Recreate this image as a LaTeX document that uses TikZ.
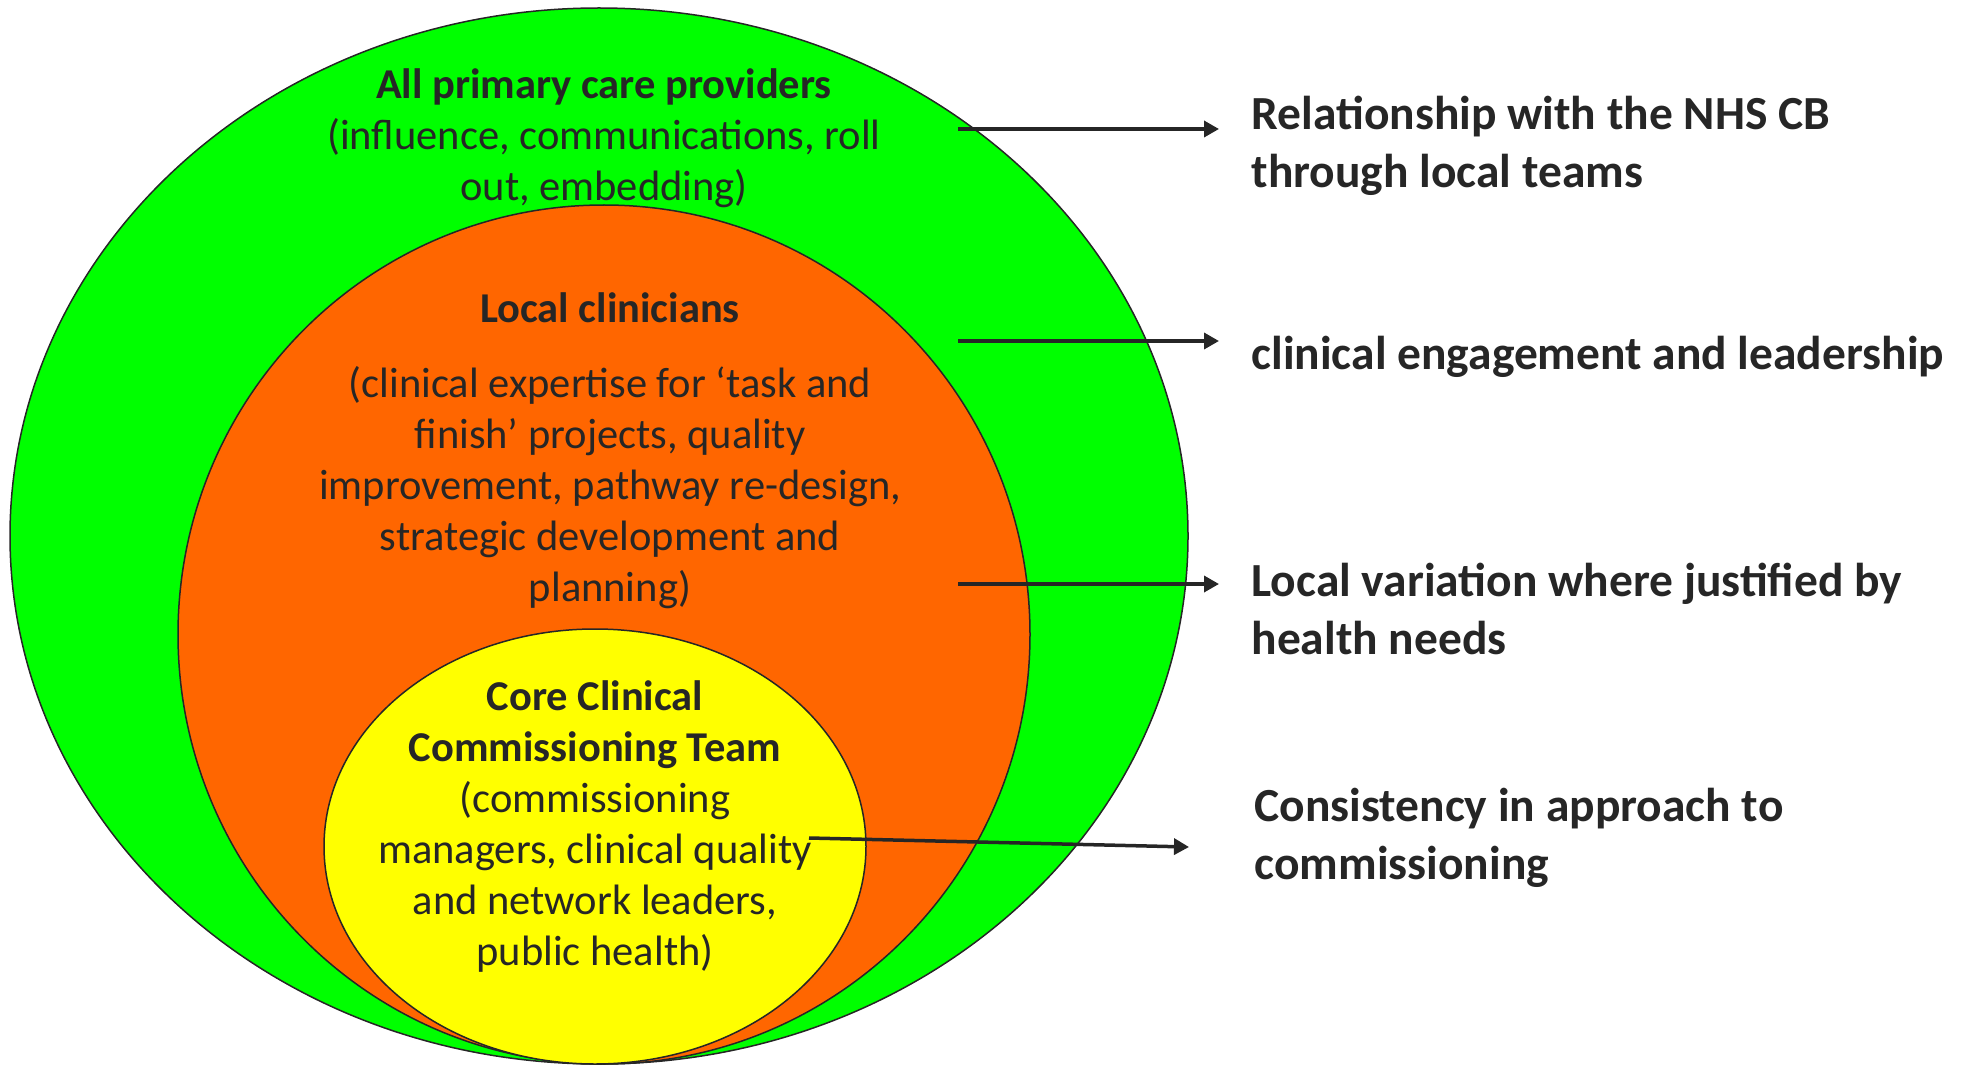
\documentclass[tikz,border=0pt]{standalone}
\usepackage{fontspec}
\setmainfont{Carlito}
\usetikzlibrary{arrows.meta}
\definecolor{ink}{HTML}{262626}
\definecolor{outer}{HTML}{00FF00}
\definecolor{middle}{HTML}{FF6600}
\definecolor{inner}{HTML}{FFFF00}
\tikzset{>={Triangle[length=15pt,width=16pt]},every node/.style={text=ink,align=center},
ring/.style={draw=ink,line width=1.5pt},link/.style={ink,line width=3.5pt,->},
inside/.style={font=\fontsize{42.5}{51}\selectfont},
side/.style={anchor=west,align=left,font=\fontsize{47.5}{58}\selectfont\bfseries}}

\begin{document}
\begin{tikzpicture}[x=1pt,y=-1pt]
\useasboundingbox (0,0) rectangle (1968,1067);
% the three nested rings
\draw[ring,fill=outer] (599,536) ellipse [x radius=589,y radius=528];
\draw[ring,fill=middle] (604,634.5) ellipse [x radius=426,y radius=429.5];
\draw[ring,fill=inner] (595,846.5) ellipse [x radius=271,y radius=217.5];
% what sits in each ring
\node[inside] (providers) at (604,138) {\textbf{All primary care providers}\\(influence, communications, roll\\out, embedding)};
\node[inside,font=\fontsize{42.5}{51}\selectfont\bfseries] (clin) at (610,308) {Local clinicians};
\node[inside] (clintxt) at (610,488) {(clinical expertise for ‘task and\\finish’ projects, quality\\improvement, pathway re-design,\\strategic development and\\planning)};
\node[inside] (core) at (595,827) {\textbf{Core Clinical}\\\textbf{Commissioning Team}\\(commissioning\\managers, clinical quality\\and network leaders,\\public health)};
% roles on the right
\node[side] (nhs) at (1248,146) {Relationship with the NHS CB\\through local teams};
\node[side] (engage) at (1248,357) {clinical engagement and leadership};
\node[side] (vary) at (1248,609) {Local variation where justified by\\health needs};
\node[side] (consist) at (1251,838) {Consistency in approach to\\commissioning};
\foreach \n/\ya/\xb/\yb/\xa in {1/129/1219/129/958,2/341/1219/341/958,3/584/1219/584/958,4/838/1189/847/809}{
\coordinate (s\n) at (\xa,\ya);\coordinate (e\n) at (\xb,\yb);
\draw[link] (s\n)--(e\n);}
\end{tikzpicture}
\end{document}
